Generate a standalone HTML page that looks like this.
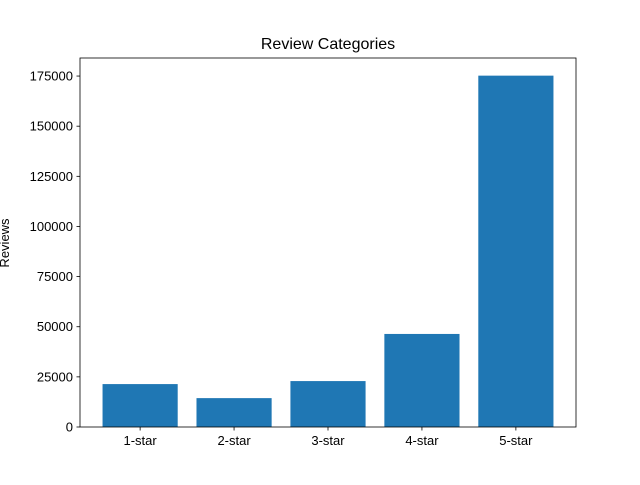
<!DOCTYPE html>
<html><head><meta charset="utf-8"><style>
body{margin:0;background:#fff;font-family:"Liberation Sans","DejaVu Sans",sans-serif}
</style></head><body>
<svg id="chart" width="640" height="480" xmlns="http://www.w3.org/2000/svg">
<rect width="640" height="480" fill="#fff"/>
<text x="328" y="49" text-anchor="middle" font-size="16">Review Categories</text>
<text transform="translate(9,243) rotate(-90)" text-anchor="middle" font-size="13">Reviews</text>
<g id="bars"></g><g id="axes"></g>
</svg>
<script>
const categories=["1-star","2-star","3-star","4-star","5-star"];
const reviews=[21400,14400,22900,46400,175200];
const yTicks=[0,25000,50000,75000,100000,125000,150000,175000];
const L=80,R=576,T=58,B=427,ymax=184000,xmin=-0.64,xmax=4.64;
const sx=v=>L+(v-xmin)/(xmax-xmin)*(R-L);
const sy=v=>B-v/ymax*(B-T);
const NS="http://www.w3.org/2000/svg";
const bars=document.getElementById('bars'),axes=document.getElementById('axes');
function mk(tag,attrs,parent){const e=document.createElementNS(NS,tag);for(const k in attrs)e.setAttribute(k,attrs[k]);parent.appendChild(e);return e;}
categories.forEach((c,i)=>{
 const r=mk('rect',{x:sx(i-0.4),y:sy(reviews[i]),width:sx(i+0.4)-sx(i-0.4),height:B-sy(reviews[i]),fill:'#1f77b4'},bars);
 
 
 const t=mk('line',{x1:sx(i),x2:sx(i),y1:B,y2:B+3.5,stroke:'#000','stroke-width':0.8},axes);
 
 
 const l=mk('text',{x:sx(i),y:B+18,'text-anchor':'middle','font-size':13},axes);
 l.textContent=c;
 
 
});
yTicks.forEach(v=>{
 const t=mk('line',{x1:L-3.5,x2:L,y1:sy(v),y2:sy(v),stroke:'#000','stroke-width':0.8},axes);
 
 
 const l=mk('text',{x:L-7,y:sy(v)+4.5,'text-anchor':'end','font-size':13},axes);
 l.textContent=v;
 
 
});
const f=mk('rect',{x:L,y:T,width:R-L,height:B-T,fill:'none',stroke:'#000','stroke-width':0.8},axes);


</script>
</body></html>
